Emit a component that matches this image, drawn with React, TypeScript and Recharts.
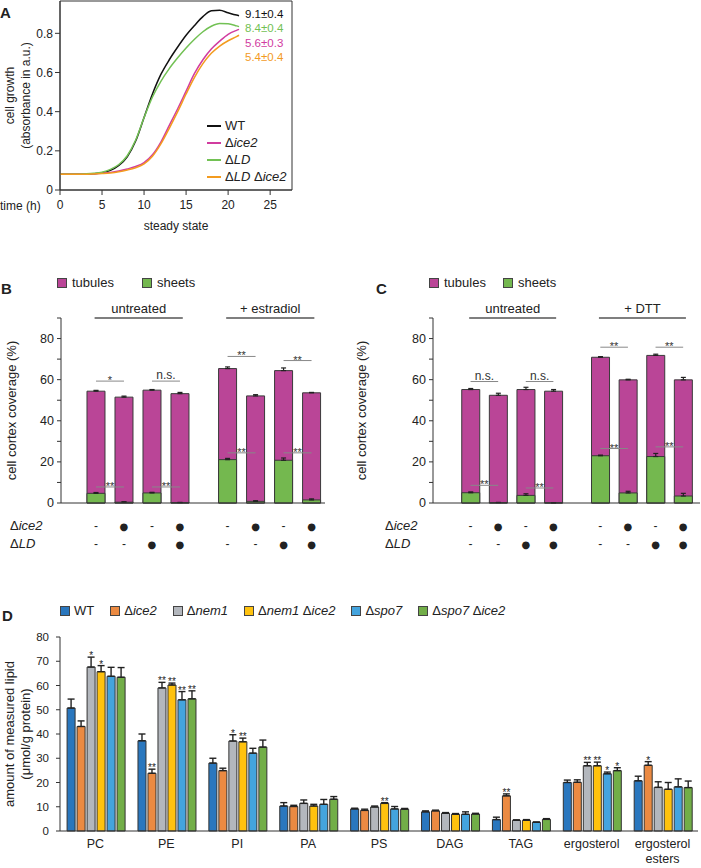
import React from 'react'
import {
  LineChart, Line, BarChart, Bar, XAxis, YAxis, ErrorBar, Legend,
  ReferenceLine, ReferenceArea, Rectangle,
} from 'recharts'

const FONT = '"Liberation Sans", Arial, Helvetica, sans-serif'
const INK = '#222'
const AXIS = '#333'

// ---------- A: growth curves ----------
const hours = [0, 1, 2, 3, 4, 5, 6, 7, 8, 9, 10, 11, 12, 13, 14, 15, 16, 17, 18, 19, 20, 21, 21.3]
const growthWT = [0.08, 0.08, 0.08, 0.081, 0.083, 0.088, 0.1, 0.125, 0.17, 0.25, 0.37, 0.49, 0.59, 0.665, 0.73, 0.79, 0.84, 0.885, 0.915, 0.918, 0.905, 0.893, 0.89]
const growthIce2 = [0.08, 0.08, 0.08, 0.081, 0.083, 0.086, 0.09, 0.097, 0.107, 0.12, 0.14, 0.18, 0.245, 0.33, 0.415, 0.505, 0.595, 0.665, 0.72, 0.76, 0.795, 0.815, 0.82]
const growthLD = [0.08, 0.08, 0.08, 0.082, 0.085, 0.091, 0.105, 0.13, 0.175, 0.255, 0.37, 0.475, 0.555, 0.62, 0.675, 0.725, 0.77, 0.808, 0.836, 0.85, 0.849, 0.838, 0.834]
const growthLDIce2 = [0.08, 0.08, 0.08, 0.08, 0.082, 0.084, 0.087, 0.093, 0.102, 0.114, 0.133, 0.172, 0.235, 0.315, 0.4, 0.49, 0.575, 0.645, 0.698, 0.735, 0.762, 0.783, 0.79]
const growthNames = ['WT', 'Δice2', 'ΔLD', 'ΔLD Δice2']
const growthColors = ['#111111', '#D13C9F', '#72C154', '#F39B1F']
// doubling times printed next to curve ends (black, green, magenta, orange)
const doublingTimes = ['9.1±0.4', '8.4±0.4', '5.6±0.3', '5.4±0.4']
const doublingColors = ['#111111', '#72C154', '#D13C9F', '#F39B1F']

// ---------- B / C: ER morphology ----------
const barSlots = [1, 2, 3, 4, 5.7, 6.7, 7.7, 8.7]
const withIce2 = [0, 1, 0, 1, 0, 1, 0, 1]
const withLD = [0, 0, 1, 1, 0, 0, 1, 1]

const estTubules = [49.7, 51.1, 50.0, 53.0, 44.3, 51.3, 43.6, 52.1]
const estTubulesErr = [0.4, 0.5, 0.3, 0.6, 0.8, 0.6, 1.3, 0.2]
const estSheets = [4.7, 0.4, 4.9, 0.2, 21.1, 0.8, 20.8, 1.5]
const estSheetsErr = [0.4, 0.2, 0.3, 0.1, 0.6, 0.3, 1.1, 0.5]

const dttTubules = [50.2, 52.2, 51.5, 54.3, 47.9, 55.0, 49.2, 56.5]
const dttTubulesErr = [0.5, 1.0, 1.1, 0.8, 0.3, 0.3, 0.6, 1.2]
const dttSheets = [5.0, 0.2, 3.7, 0.1, 23.0, 4.9, 22.6, 3.4]
const dttSheetsErr = [0.4, 0.1, 0.8, 0.05, 0.3, 0.8, 1.5, 1.3]

const estGroups = [
  { label: 'untreated', from: 0.95, to: 4.1 },
  { label: '+ estradiol', from: 5.65, to: 8.8 },
]
const dttGroups = [
  { label: 'untreated', from: 0.95, to: 4.1 },
  { label: '+ DTT', from: 5.65, to: 8.8 },
]
const estSig = [
  { a: 0, b: 1, level: 59.3, text: '*' },
  { a: 2, b: 3, level: 59.3, text: 'n.s.' },
  { a: 4, b: 5, level: 71.3, text: '**' },
  { a: 6, b: 7, level: 69.3, text: '**' },
  { a: 0, b: 1, level: 7.8, text: '**' },
  { a: 2, b: 3, level: 7.8, text: '**' },
  { a: 4, b: 5, level: 24.4, text: '**' },
  { a: 6, b: 7, level: 24.4, text: '**' },
]
const dttSig = [
  { a: 0, b: 1, level: 59.1, text: 'n.s.' },
  { a: 2, b: 3, level: 59.1, text: 'n.s.' },
  { a: 4, b: 5, level: 75.8, text: '**' },
  { a: 6, b: 7, level: 75.8, text: '**' },
  { a: 0, b: 1, level: 8.6, text: '**' },
  { a: 2, b: 3, level: 7.3, text: '**' },
  { a: 4, b: 5, level: 26.5, text: '**' },
  { a: 6, b: 7, level: 27.3, text: '**' },
]
const TUBULE = '#BA4597'
const SHEET = '#74B84F'

// ---------- D: lipidomics ----------
const lipids = ['PC', 'PE', 'PI', 'PA', 'PS', 'DAG', 'TAG', 'ergosterol', 'ergosterol esters']
const strains = ['WT', 'Δice2', 'Δnem1', 'Δnem1 Δice2', 'Δspo7', 'Δspo7 Δice2']
const strainColors = ['#2A77BE', '#EB8A42', '#B3B7BD', '#FFC20E', '#44A4DE', '#72AE48']

const lipidWT = [50.7, 37.2, 28.0, 10.3, 9.1, 7.9, 4.7, 20.0, 20.7]
const lipidIce2 = [43.1, 23.8, 24.9, 10.1, 8.5, 8.3, 14.5, 20.1, 27.1]
const lipidNem1 = [67.6, 59.0, 37.1, 11.4, 9.9, 7.3, 4.4, 26.9, 18.0]
const lipidNem1Ice2 = [65.7, 60.2, 36.8, 10.3, 11.4, 6.9, 4.4, 26.9, 17.2]
const lipidSpo7 = [63.8, 54.1, 32.1, 11.0, 9.1, 6.9, 3.6, 23.6, 18.2]
const lipidSpo7Ice2 = [63.4, 54.5, 34.6, 13.1, 9.0, 7.0, 4.8, 24.9, 17.9]

const errWT = [3.7, 2.8, 2.0, 1.4, 0.3, 0.4, 1.0, 1.0, 1.9]
const errIce2 = [2.3, 1.7, 1.0, 0.5, 0.5, 0.3, 0.8, 1.0, 1.5]
const errNem1 = [4.1, 2.3, 2.6, 1.4, 0.4, 0.3, 0.2, 1.4, 2.3]
const errNem1Ice2 = [2.5, 0.8, 1.5, 0.7, 0.3, 0.3, 0.3, 1.5, 2.8]
const errSpo7 = [3.7, 3.4, 2.0, 2.0, 1.0, 1.0, 0.1, 0.7, 3.3]
const errSpo7Ice2 = [4.0, 3.3, 2.9, 1.1, 0.3, 0.3, 0.3, 1.2, 2.7]

const starsWT = ['', '', '', '', '', '', '', '', '']
const starsIce2 = ['', '**', '', '', '', '', '**', '', '*']
const starsNem1 = ['*', '**', '*', '', '', '', '', '**', '']
const starsNem1Ice2 = ['*', '**', '**', '', '**', '', '', '**', '']
const starsSpo7 = ['', '**', '', '', '', '', '', '*', '']
const starsSpo7Ice2 = ['', '**', '', '', '', '', '', '*', '']

const lipidValues = [lipidWT, lipidIce2, lipidNem1, lipidNem1Ice2, lipidSpo7, lipidSpo7Ice2]
const lipidErrors = [errWT, errIce2, errNem1, errNem1Ice2, errSpo7, errSpo7Ice2]
const lipidStars = [starsWT, starsIce2, starsNem1, starsNem1Ice2, starsSpo7, starsSpo7Ice2]

// ---------- shared bits ----------
function Strain({ name }: { name: string }) {
  return (
    <span style={{ whiteSpace: 'pre' }}>
      {name.split(' ').map((w, i) => (
        <React.Fragment key={i}>
          {i > 0 && ' '}
          {w.startsWith('Δ') ? <>Δ<i>{w.slice(1)}</i></> : w}
        </React.Fragment>
      ))}
    </span>
  )
}

const AxisTitle = ({ viewBox, lines, xs, size = 12 }: any) => {
  const cy = viewBox ? viewBox.y + viewBox.height / 2 : 0
  return (
    <g>
      {lines.map((l: string, i: number) => (
        <text
          key={i} x={xs[i]} y={cy} transform={`rotate(-90 ${xs[i]} ${cy})`}
          textAnchor="middle" dominantBaseline="central" fontSize={size} fill={INK} stroke="none"
        >
          {l}
        </text>
      ))}
    </g>
  )
}

const Swatch = ({ color }: { color: string }) => (
  <span style={{ display: 'inline-block', width: 8, height: 8, background: color, border: '1px solid #444' }} />
)

const abs = (left: number, top: number): React.CSSProperties => ({ position: 'absolute', left, top })

// ---------- A ----------
const GrowthLegend = () => (
  <div style={{ fontSize: 13, lineHeight: '17px', color: INK, fontFamily: FONT }}>
    {growthNames.map((n, i) => (
      <div key={n} style={{ display: 'flex', alignItems: 'center' }}>
        <span style={{ width: 14, height: 2, background: growthColors[i], marginRight: 4 }} />
        <Strain name={n} />
      </div>
    ))}
  </div>
)

function GrowthPanel() {
  const rows = hours.map((t, i) => ({
    t, wt: growthWT[i], ice2: growthIce2[i], ld: growthLD[i], ldIce2: growthLDIce2[i],
  }))
  const keys = ['wt', 'ice2', 'ld', 'ldIce2']
  return (
    <div style={abs(0, 0)}>
      <LineChart width={300} height={240} data={rows} margin={{ top: 1, right: 8, left: 0, bottom: 0 }}>
        <ReferenceArea x1={0} x2={27.6} y1={0} y2={0.965} fill="none" stroke={AXIS} strokeWidth={1} />
        <XAxis
          type="number" dataKey="t" domain={[0, 27.6]} ticks={[0, 5, 10, 15, 20, 25]}
          tickSize={5} tickMargin={5} height={50} stroke={AXIS}
          tick={{ fontSize: 12, fill: INK }}
          label={{ value: 'steady state', position: 'insideBottom', offset: 10, fontSize: 12, fill: INK }}
        />
        <YAxis
          type="number" domain={[0, 0.965]} ticks={[0, 0.2, 0.4, 0.6, 0.8]}
          tickFormatter={(v: number) => (v === 0 ? '0' : v.toFixed(1))}
          width={60} tickSize={5} tickMargin={2} stroke={AXIS} tick={{ fontSize: 12, fill: INK }}
          label={<AxisTitle lines={['cell growth', '(absorbance in a.u.)']} xs={[10, 26]} />}
        />
        {keys.map((k, i) => (
          <Line
            key={k} type="monotone" dataKey={k} name={growthNames[i]} stroke={growthColors[i]}
            strokeWidth={1.5} dot={false} isAnimationActive={false}
          />
        ))}
        <Legend
          layout="vertical" align="center" verticalAlign="middle"
          wrapperStyle={{ left: 207, top: 117, width: 100 }} content={() => <GrowthLegend />}
        />
      </LineChart>
      <div style={{ ...abs(0, 199), fontSize: 12, lineHeight: '14px', color: INK }}>time (h)</div>
      {doublingTimes.map((d, i) => (
        <div key={d} style={{ ...abs(245, [7, 21, 36, 50][i]), fontSize: 11.5, lineHeight: '14px', color: doublingColors[i] }}>
          {d}
        </div>
      ))}
    </div>
  )
}

// ---------- B / C ----------
const GenotypeTick = (props: any) => {
  const { x, y, payload } = props
  const i = barSlots.indexOf(payload.value)
  if (i < 0) return null
  const mark = (on: number, dy: number) => (
    <text
      x={x} y={y + dy} textAnchor="middle" dominantBaseline="central" stroke="none"
      fontSize={on ? 10 : 12} fill={INK} fontFamily={on ? '"DejaVu Sans", sans-serif' : FONT}
    >
      {on ? '●' : '-'}
    </text>
  )
  return <g>{mark(withIce2[i], 23)}{mark(withLD[i], 41)}</g>
}

type Sig = { a: number; b: number; level: number; text: string }
type Group = { label: string; from: number; to: number }

function CoveragePanel(props: {
  left: number; width: number; plotRight: number; yAxisWidth: number; xDomain: [number, number]
  tubules: number[]; tubulesErr: number[]; sheets: number[]; sheetsErr: number[]
  groups: Group[]; sig: Sig[]; letter: string; letterLeft: number; legendGap: number; titleX: number
  rowLabelLeft: number
}) {
  const { left, width, yAxisWidth, xDomain, tubules, tubulesErr, sheets, sheetsErr, groups, sig } = props
  const rows = barSlots.map((slot, i) => ({
    slot,
    coverage: tubules[i] + sheets[i],
    sheets: sheets[i],
    coverageErr: [0, tubulesErr[i]],
    sheetsErr: [0, sheetsErr[i]],
  }))
  return (
    <>
      <div style={{ ...abs(props.letterLeft, 280), fontSize: 15, fontWeight: 'bold', color: INK }}>{props.letter}</div>
      <div style={abs(left, 270)}>
        <BarChart width={width} height={283} data={rows} margin={{ top: 48, right: width - props.plotRight, left: 0, bottom: 0 }}>
          <XAxis
            xAxisId="cov" type="number" dataKey="slot" domain={xDomain} ticks={barSlots}
            tick={<GenotypeTick />} tickLine={false} tickSize={0} tickMargin={0} height={50}
            stroke={AXIS} allowDataOverflow interval={0}
          />
          <XAxis xAxisId="sh" type="number" dataKey="slot" domain={xDomain} hide allowDataOverflow />
          <YAxis
            type="number" domain={[0, 90]} ticks={[0, 10, 20, 30, 40, 50, 60, 70, 80, 90]}
            tickFormatter={(v: number) => (v % 20 === 0 && v <= 80 ? String(v) : '')}
            width={yAxisWidth} tickSize={4} tickMargin={3} stroke={AXIS} tick={{ fontSize: 12.5, fill: INK }}
            label={<AxisTitle lines={['cell cortex coverage (%)']} xs={[props.titleX]} size={13} />}
          />
          <Bar xAxisId="cov" dataKey="coverage" barSize={18} fill={TUBULE} stroke="#3a3a3a" strokeWidth={1} isAnimationActive={false}>
            <ErrorBar dataKey="coverageErr" width={2.5} stroke="#222" strokeWidth={1.2} direction="y" />
          </Bar>
          <Bar xAxisId="sh" dataKey="sheets" barSize={18} fill={SHEET} stroke="#3a3a3a" strokeWidth={1} isAnimationActive={false}>
            <ErrorBar dataKey="sheetsErr" width={2.5} stroke="#222" strokeWidth={1.2} direction="y" />
          </Bar>
          {groups.map((g) => (
            <ReferenceLine
              key={g.label} xAxisId="cov" segment={[{ x: g.from, y: 90 }, { x: g.to, y: 90 }]}
              stroke="#555" strokeWidth={1.5}
              label={{ value: g.label, position: 'top', offset: 5, fontSize: 13, fill: INK, stroke: 'none' }}
            />
          ))}
          {sig.map((s, i) => (
            <ReferenceLine
              key={i} xAxisId="cov"
              segment={[{ x: barSlots[s.a], y: s.level }, { x: barSlots[s.b], y: s.level }]}
              stroke="#888" strokeWidth={1}
              label={{
                value: s.text, position: 'top', offset: s.text === 'n.s.' ? 2 : -3,
                fontSize: s.text === 'n.s.' ? 12 : 11, fill: '#333', stroke: 'none',
              }}
            />
          ))}
          <Legend
            layout="horizontal" align="center" verticalAlign="middle"
            wrapperStyle={{ left: yAxisWidth - 4, top: 5, width: 200 }}
            content={() => (
              <div style={{ display: 'flex', alignItems: 'center', fontSize: 13, lineHeight: '16px', color: INK, fontFamily: FONT }}>
                <Swatch color={TUBULE} />
                <span style={{ marginLeft: 5, marginRight: props.legendGap }}>tubules</span>
                <Swatch color={SHEET} />
                <span style={{ marginLeft: 5 }}>sheets</span>
              </div>
            )}
          />
        </BarChart>
      </div>
      {['Δice2', 'ΔLD'].map((n, i) => (
        <div key={n} style={{ ...abs(props.rowLabelLeft, [518, 536][i]), fontSize: 13, lineHeight: '16px', color: INK }}>
          <Strain name={n} />
        </div>
      ))}
    </>
  )
}

// ---------- D ----------
const LipidTick = (props: any) => {
  const { x, y, payload } = props
  const words = payload.value === 'ergosterol esters' ? ['ergosterol', 'esters'] : [payload.value]
  return (
    <text x={x} y={y} textAnchor="middle" fontSize={12.5} fill={INK} stroke="none">
      {words.map((w: string, i: number) => (
        <tspan key={i} x={x} dy={i === 0 ? 17 : 15}>{w}</tspan>
      ))}
    </text>
  )
}

function makeStarBar(k: number) {
  return (p: any) => {
    const { x, y, width, height, payload } = p
    const value = payload[`v${k}`]
    const err = payload[`e${k}`][1]
    const star = payload[`s${k}`]
    const errTop = value > 0 ? y - (err * height) / value : y
    return (
      <g>
        <Rectangle x={x} y={y} width={width} height={height} fill={strainColors[k]} stroke="#333" strokeWidth={1} />
        {star ? (
          <text
            x={x + width / 2} y={errTop + 2} textAnchor="middle" fontSize={10}
            fill={INK} stroke="none"
          >
            {star}
          </text>
        ) : null}
      </g>
    )
  }
}

function LipidPanel() {
  const rows = lipids.map((lipid, i) => {
    const row: Record<string, any> = { lipid }
    lipidValues.forEach((vals, k) => {
      row[`v${k}`] = vals[i]
      row[`e${k}`] = [0, lipidErrors[k][i]]
      row[`s${k}`] = lipidStars[k][i]
    })
    return row
  })
  return (
    <>
      <div style={{ ...abs(2, 607), fontSize: 15, fontWeight: 'bold', color: INK }}>D</div>
      <div style={abs(0, 598)}>
        <BarChart
          width={700} height={270} data={rows} margin={{ top: 39, right: 2, left: 0, bottom: 0 }}
          barCategoryGap="10%" barGap={2}
        >
          <XAxis
            dataKey="lipid" interval={0} tick={<LipidTick />} tickLine={false} tickSize={0}
            tickMargin={0} height={37} stroke={AXIS}
          />
          <YAxis
            type="number" domain={[0, 80]} ticks={[0, 10, 20, 30, 40, 50, 60, 70, 80]}
            width={60} tickSize={4} tickMargin={7} stroke={AXIS} tick={{ fontSize: 11.5, fill: INK }}
            label={<AxisTitle lines={['amount of measured lipid', '(μmol/g protein)']} xs={[9, 25]} size={13} />}
          />
          {strains.map((s, k) => (
            <Bar
              key={s} dataKey={`v${k}`} name={s} fill={strainColors[k]} isAnimationActive={false}
              shape={makeStarBar(k)}
            >
              <ErrorBar dataKey={`e${k}`} width={3.5} stroke="#222" strokeWidth={1.4} direction="y" />
            </Bar>
          ))}
          <Legend
            layout="horizontal" align="center" verticalAlign="middle"
            wrapperStyle={{ left: 60, top: 5, width: 520 }}
            content={() => (
              <div style={{ display: 'flex', alignItems: 'center', gap: 16, fontSize: 13, lineHeight: '16px', color: INK, fontFamily: FONT }}>
                {strains.map((s, k) => (
                  <span key={s} style={{ display: 'flex', alignItems: 'center' }}>
                    <Swatch color={strainColors[k]} />
                    <span style={{ marginLeft: 4 }}><Strain name={s} /></span>
                  </span>
                ))}
              </div>
            )}
          />
        </BarChart>
      </div>
    </>
  )
}

export default function App() {
  return (
    <div style={{
      position: 'absolute', left: 0, top: 0, width: 701, height: 868, background: '#fff',
      fontFamily: FONT, color: INK, overflow: 'hidden',
    }}>
      <div style={{ ...abs(0, 4), fontSize: 15, fontWeight: 'bold', color: INK }}>A</div>
      <GrowthPanel />
      <CoveragePanel
        left={0} width={330} plotRight={325} yAxisWidth={61} xDomain={[-0.25, 9.18]}
        tubules={estTubules} tubulesErr={estTubulesErr} sheets={estSheets} sheetsErr={estSheetsErr}
        groups={estGroups} sig={estSig} letter="B" letterLeft={1} legendGap={28} titleX={11}
        rowLabelLeft={10}
      />
      <CoveragePanel
        left={350} width={351} plotRight={350} yAxisWidth={83} xDomain={[-0.36, 9.31]}
        tubules={dttTubules} tubulesErr={dttTubulesErr} sheets={dttSheets} sheetsErr={dttSheetsErr}
        groups={dttGroups} sig={dttSig} letter="C" letterLeft={376} legendGap={17} titleX={11}
        rowLabelLeft={385}
      />
      <LipidPanel />
    </div>
  )
}
